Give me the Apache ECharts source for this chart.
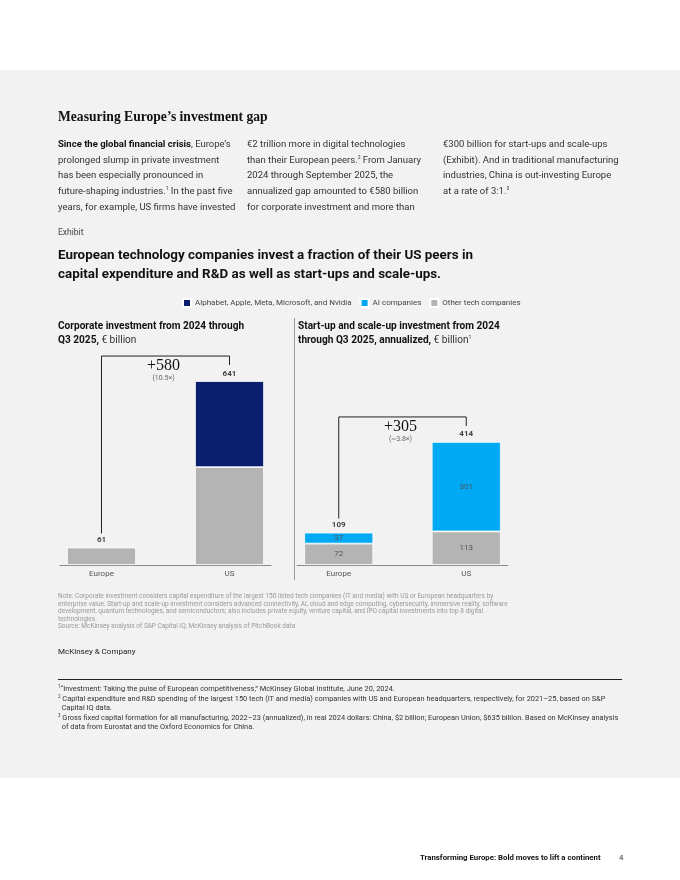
<!DOCTYPE html>
<html>
<head>
<meta charset="utf-8">
<script src="https://cdn.jsdelivr.net/npm/echarts@6/dist/echarts.min.js"></script>
<style>
  html, body { margin: 0; padding: 0; background: #fff; }
  #page { position: relative; width: 680px; height: 880px; overflow: hidden; font-family: Roboto, "Noto Sans", sans-serif; color: #222; }
  #panel { position: absolute; left: 0; top: 70px; width: 680px; height: 708px; background: #f2f2f2; }
  #chart { position: absolute; left: 0; top: 0; width: 680px; height: 880px; }
  .t { position: absolute; white-space: nowrap; }
  .h1 { left: 58px; top: 109px; font-family: "Liberation Serif", "DejaVu Serif", serif; font-weight: bold; font-size: 13.6px; color: #111; }
  .col { position: absolute; top: 136px; font-size: 9.5px; line-height: 15.7px; color: #333; white-space: nowrap; }
  .col b { color: #111; }
  sup { font-size: 5px; vertical-align: 4px; line-height: 0; }
  .exh { left: 58px; top: 227px; font-size: 8.5px; color: #444; }
  .et { left: 58px; top: 245px; font-size: 13.4px; line-height: 19px; font-weight: bold; color: #111; }
  .sub { position: absolute; top: 319px; font-size: 10.1px; line-height: 14px; font-weight: bold; color: #111; white-space: nowrap; }
  .sub span { font-weight: normal; color: #333; }
  .note { left: 58px; top: 593px; font-size: 6.5px; line-height: 7.5px; color: #999; }
  .mck { left: 58px; top: 647px; font-size: 8px; color: #222; }
  #rule { position: absolute; left: 58px; top: 679px; width: 564px; height: 1px; background: #222; }
  .fn { left: 58px; top: 684px; font-size: 7.4px; line-height: 9.6px; color: #333; }
  .fn sup { font-size: 4.5px; vertical-align: 3px; }
  .foot { left: 420px; top: 853px; font-size: 7.8px; font-weight: bold; color: #111; }
  .pg { left: 619px; top: 853px; font-size: 7.8px; color: #333; }
</style>
</head>
<body>
<div id="page">
  <div id="panel"></div>
  <div id="chart"></div>
  <div class="t h1">Measuring Europe’s investment gap</div>
  <div class="col" style="left:58px"><b>Since the global financial crisis</b>, Europe’s<br>prolonged slump in private investment<br>has been especially pronounced in<br>future-shaping industries.<sup>1</sup> In the past five<br>years, for example, US firms have invested</div>
  <div class="col" style="left:247px">€2 trillion more in digital technologies<br>than their European peers.<sup>2</sup> From January<br>2024 through September 2025, the<br>annualized gap amounted to €580 billion<br>for corporate investment and more than</div>
  <div class="col" style="left:443px">€300 billion for start-ups and scale-ups<br>(Exhibit). And in traditional manufacturing<br>industries, China is out-investing Europe<br>at a rate of 3:1.<sup>3</sup></div>
  <div class="t exh">Exhibit</div>
  <div class="t et">European technology companies invest a fraction of their US peers in<br>capital expenditure and R&amp;D as well as start-ups and scale-ups.</div>
  <div class="sub" style="left:58px">Corporate investment from 2024 through<br>Q3 2025, <span>€ billion</span></div>
  <div class="sub" style="left:298px">Start-up and scale-up investment from 2024<br>through Q3 2025, annualized, <span>€ billion<sup>1</sup></span></div>
  <div class="t note">Note: Corporate investment considers capital expenditure of the largest 150 listed tech companies (IT and media) with US or European headquarters by<br>enterprise value. Start-up and scale-up investment considers advanced connectivity, AI, cloud and edge computing, cybersecurity, immersive reality, software<br>development, quantum technologies, and semiconductors; also includes private equity, venture capital, and IPO capital investments into top 8 digital<br>technologies.<br>Source: McKinsey analysis of S&amp;P Capital IQ; McKinsey analysis of PitchBook data</div>
  <div class="t mck">McKinsey &amp; Company</div>
  <div id="rule"></div>
  <div class="t fn"><sup>1</sup>“Investment: Taking the pulse of European competitiveness,” McKinsey Global Institute, June 20, 2024.<br><sup>2</sup> Capital expenditure and R&amp;D spending of the largest 150 tech (IT and media) companies with US and European headquarters, respectively, for 2021–25, based on S&amp;P<br>&nbsp;&nbsp;Capital IQ data.<br><sup>3</sup> Gross fixed capital formation for all manufacturing, 2022–23 (annualized), in real 2024 dollars: China, $2 billion; European Union, $635 billion. Based on McKinsey analysis<br>&nbsp;&nbsp;of data from Eurostat and the Oxford Economics for China.</div>
  <div class="t foot">Transforming Europe: Bold moves to lift a continent</div>
  <div class="t pg">4</div>
</div>
<script>
const categories = ['Europe', 'US'];
const corpOther = [61, 341];
const corpBig5 = ['-', 300];
const corpTotal = [61, 641];
const startOther = [72, 113];
const startAI = [37, 301];
const startTotal = [109, 414];
const corpGapLabel = '+580';
const corpGapRatio = '(10.5×)';
const startGapLabel = '+305';
const startGapRatio = '(~3.8×)';
const legendNames = ['Alphabet, Apple, Meta, Microsoft, and Nvidia', 'AI companies', 'Other tech companies'];

const NAVY = '#0b1f6f', BLUE = '#00a9f4', GRAY = '#b4b4b4';
const FONT = 'Roboto';

const chart = echarts.init(document.getElementById('chart'), null, { renderer: 'canvas' });

function xAxis(grid) {
  return {
    type: 'category', gridIndex: grid, data: categories,
    axisLine: { show: false }, axisTick: { show: false },
    axisLabel: { color: '#555', fontSize: 8, fontFamily: FONT, margin: 5 }
  };
}
function yAxis(grid, max) {
  return { type: 'value', gridIndex: grid, min: 0, max: max, show: false, splitLine: { show: false } };
}
function totalSeries(grid, data) {
  return {
    type: 'scatter', xAxisIndex: grid, yAxisIndex: grid, data: data, symbol: 'rect', symbolSize: 1,
    itemStyle: { color: 'rgba(0,0,0,0)' }, silent: true, z: 5,
    label: { show: true, position: 'top', distance: 3, color: '#111', fontWeight: 'bold', fontSize: 8, fontFamily: FONT }
  };
}
const barBase = { type: 'bar', barWidth: 69, itemStyle: { borderColor: '#fff', borderWidth: 0.8 } };

chart.setOption({
  animation: false,
  textStyle: { fontFamily: FONT },
  legend: {
    data: legendNames, top: 298, left: 182, itemWidth: 8, itemHeight: 8, itemGap: 8, padding: 0,
    icon: 'rect', selectedMode: false,
    textStyle: { fontSize: 8, color: '#444', fontFamily: FONT, padding: [0, 0, 0, -1] }
  },
  grid: [
    { left: 37.5, top: 340, width: 256, height: 225 },
    { left: 275, top: 340, width: 255, height: 225 }
  ],
  xAxis: [xAxis(0), xAxis(1)],
  yAxis: [yAxis(0, 784), yAxis(1, 757)],
  series: [
    Object.assign({}, barBase, { name: legendNames[2], xAxisIndex: 0, yAxisIndex: 0, stack: 'c', data: corpOther, itemStyle: Object.assign({}, barBase.itemStyle, { color: GRAY }) }),
    Object.assign({}, barBase, { name: legendNames[0], xAxisIndex: 0, yAxisIndex: 0, stack: 'c', data: corpBig5, itemStyle: Object.assign({}, barBase.itemStyle, { color: NAVY }) }),
    totalSeries(0, corpTotal),
    Object.assign({}, barBase, { name: legendNames[2], xAxisIndex: 1, yAxisIndex: 1, stack: 's', data: startOther, itemStyle: Object.assign({}, barBase.itemStyle, { color: GRAY }),
      label: { show: true, position: 'inside', color: '#555', fontSize: 8, fontFamily: FONT } }),
    Object.assign({}, barBase, { name: legendNames[1], xAxisIndex: 1, yAxisIndex: 1, stack: 's', data: startAI, itemStyle: Object.assign({}, barBase.itemStyle, { color: BLUE }),
      label: { show: true, position: 'inside', color: '#555', fontSize: 8, fontFamily: FONT } }),
    totalSeries(1, startTotal)
  ]
});

function px(grid, i, v) { return chart.convertToPixel({ gridIndex: grid }, [i, v]); }

function bracket(grid, totals, label, ratio) {
  const e = px(grid, 0, totals[0]);
  const u = px(grid, 1, totals[1]);
  const base0 = px(grid, 0, 0), base1 = px(grid, 1, 0);
  const topY = u[1] - 25;
  const mid = (e[0] + u[0]) / 2;
  return [
    { type: 'polyline', silent: true, shape: { points: [[e[0], e[1] - 14], [e[0], topY], [u[0], topY], [u[0], u[1] - 16]] },
      style: { stroke: '#222', lineWidth: 1, fill: null } },
    { type: 'text', silent: true, x: mid - 2, y: topY + 10, style: { text: label, fill: '#111', font: '16px "Liberation Serif", serif', align: 'center', verticalAlign: 'middle' } },
    { type: 'text', silent: true, x: mid - 2, y: topY + 22, style: { text: ratio, fill: '#666', font: '7px Roboto', align: 'center', verticalAlign: 'middle' } },
    { type: 'line', silent: true, shape: { x1: base0[0] - 42, y1: base0[1] + 0.5, x2: base1[0] + 42, y2: base1[1] + 0.5 }, style: { stroke: '#888', lineWidth: 1 } }
  ];
}

chart.setOption({
  graphic: [].concat(
    bracket(0, corpTotal, corpGapLabel, corpGapRatio),
    bracket(1, startTotal, startGapLabel, startGapRatio),
    [{ type: 'line', silent: true, shape: { x1: 294.5, y1: 318, x2: 294.5, y2: 580 }, style: { stroke: '#999', lineWidth: 1 } }]
  )
});
</script>
</body>
</html>
